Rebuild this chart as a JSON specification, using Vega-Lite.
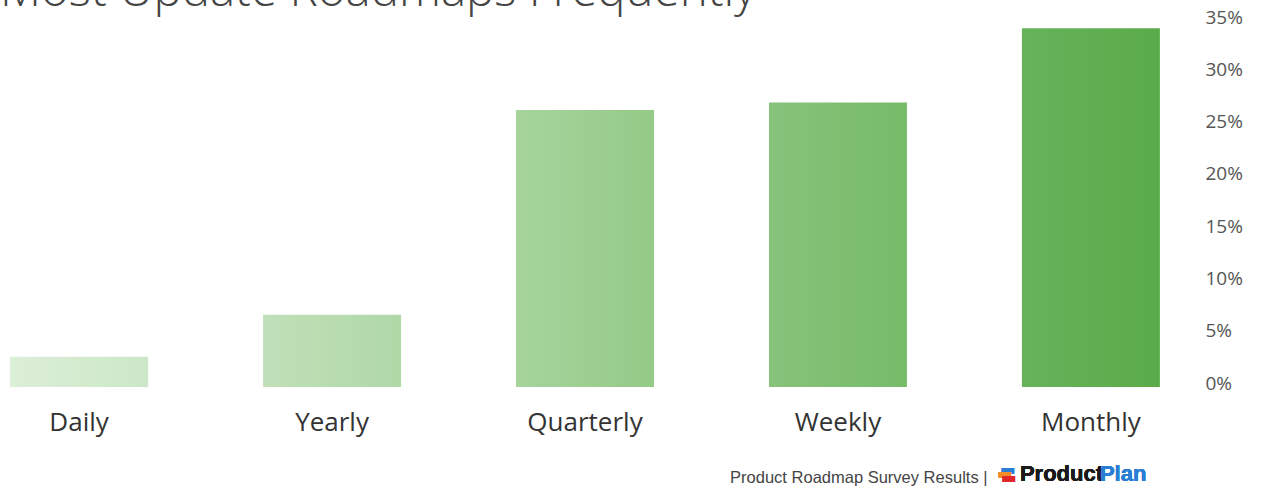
{
  "$schema": "https://vega.github.io/schema/vega-lite/v6.json",
  "width": 1170,
  "height": 366,
  "autosize": {"type": "none"},
  "padding": {"left": 0, "top": 21, "right": 92, "bottom": 99},
  "background": "white",
  "config": {"view": {"stroke": null}},
  "title": {
    "text": "Most Update Roadmaps Frequently",
    "anchor": "start",
    "frame": "group",
    "orient": "top",
    "offset": -7,
    "font": "Open Sans",
    "fontSize": 47.5,
    "fontWeight": 300,
    "color": "#444444"
  },
  "data": {
    "values": [
      {"freq": "Daily", "pct": 2.9},
      {"freq": "Yearly", "pct": 6.9},
      {"freq": "Quarterly", "pct": 26.5},
      {"freq": "Weekly", "pct": 27.2},
      {"freq": "Monthly", "pct": 34.3}
    ]
  },
  "layer": [
    {
      "mark": {"type": "bar"},
      "encoding": {
        "x": {
          "field": "freq",
          "type": "nominal",
          "sort": null,
          "scale": {"paddingInner": 0.4545, "paddingOuter": 0.04},
          "axis": {
            "orient": "bottom",
            "domain": false,
            "ticks": false,
            "labelAngle": 0,
            "labelPadding": 22,
            "labelFont": "Open Sans",
            "labelFontSize": 26,
            "labelColor": "#333333",
            "title": "Product Roadmap Survey Results |",
            "titleFont": "Liberation Sans",
            "titleFontSize": 16.5,
            "titleFontWeight": "normal",
            "titleColor": "#444444",
            "titleAlign": "right",
            "titleAnchor": null,
            "titleBaseline": "alphabetic",
            "titleX": 987,
            "titleY": 95
          }
        },
        "y": {
          "field": "pct",
          "type": "quantitative",
          "scale": {"domain": [0, 35], "nice": false},
          "axis": {
            "orient": "right",
            "values": [0, 5, 10, 15, 20, 25, 30, 35],
            "labelExpr": "datum.value + '%'",
            "domain": false,
            "ticks": false,
            "grid": false,
            "labelAlign": "left",
            "labelBaseline": "middle",
            "labelPadding": 35,
            "labelOffset": -4,
            "labelFont": "Open Sans",
            "labelFontSize": 19,
            "labelColor": "#555555",
            "title": null
          }
        },
        "color": {
          "condition": [
            {"test": "datum.freq === 'Daily'", "value": {"gradient": "linear", "x1": 0, "y1": 0, "x2": 1, "y2": 0, "stops": [{"offset": 0, "color": "#dcefd8"}, {"offset": 1, "color": "#cce7c8"}]}},
            {"test": "datum.freq === 'Yearly'", "value": {"gradient": "linear", "x1": 0, "y1": 0, "x2": 1, "y2": 0, "stops": [{"offset": 0, "color": "#c0e0b9"}, {"offset": 1, "color": "#b0d8a7"}]}},
            {"test": "datum.freq === 'Quarterly'", "value": {"gradient": "linear", "x1": 0, "y1": 0, "x2": 1, "y2": 0, "stops": [{"offset": 0, "color": "#a6d49c"}, {"offset": 1, "color": "#94ca88"}]}},
            {"test": "datum.freq === 'Weekly'", "value": {"gradient": "linear", "x1": 0, "y1": 0, "x2": 1, "y2": 0, "stops": [{"offset": 0, "color": "#87c37b"}, {"offset": 1, "color": "#77bb69"}]}}
          ],
          "value": {"gradient": "linear", "x1": 0, "y1": 0, "x2": 1, "y2": 0, "stops": [{"offset": 0, "color": "#66b35a"}, {"offset": 1, "color": "#5aab4a"}]}
        }
      }
    },
    {
      "mark": {"type": "text", "align": "left", "baseline": "alphabetic", "font": "Liberation Sans", "fontSize": 22, "fontWeight": "bold", "color": "#1a1a1a", "dx": -71},
      "encoding": {
        "x": {"datum": "Monthly"},
        "y": {"datum": -9},
        "text": {"value": "Product"}
      }
    },
    {
      "mark": {"type": "text", "align": "left", "baseline": "alphabetic", "font": "Liberation Sans", "fontSize": 22, "fontWeight": "bold", "color": "#2a7fd4", "dx": 9},
      "encoding": {
        "x": {"datum": "Monthly"},
        "y": {"datum": -9},
        "text": {"value": "Plan"}
      }
    },
    {
      "mark": {"type": "text", "align": "left", "baseline": "middle", "font": "DejaVu Sans", "fontSize": 16, "color": "#2a7fd4", "dx": -91, "dy": -4},
      "encoding": {
        "x": {"datum": "Monthly"},
        "y": {"datum": -8.3},
        "text": {"value": "▬"}
      }
    },
    {
      "mark": {"type": "text", "align": "left", "baseline": "middle", "font": "DejaVu Sans", "fontSize": 16, "color": "#f28c28", "dx": -94, "dy": 0},
      "encoding": {
        "x": {"datum": "Monthly"},
        "y": {"datum": -8.3},
        "text": {"value": "▬"}
      }
    },
    {
      "mark": {"type": "text", "align": "left", "baseline": "middle", "font": "DejaVu Sans", "fontSize": 16, "color": "#e0262b", "dx": -90, "dy": 4},
      "encoding": {
        "x": {"datum": "Monthly"},
        "y": {"datum": -8.3},
        "text": {"value": "▬"}
      }
    }
  ]
}
